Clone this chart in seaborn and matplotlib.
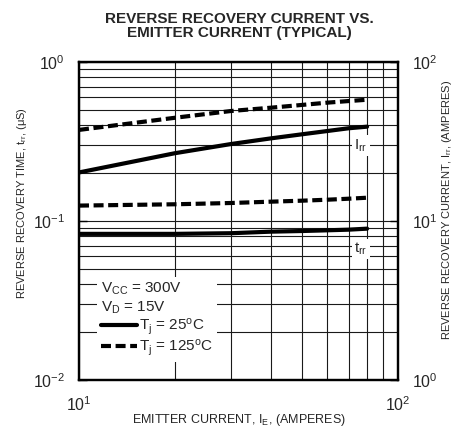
import numpy as np
import pandas as pd
import seaborn as sns
import matplotlib
matplotlib.use("Agg")
from matplotlib import pyplot as plt
from matplotlib.lines import Line2D
from matplotlib.ticker import LogLocator, NullFormatter

## values
emitter_current = [10, 20, 30, 40, 50, 60, 70, 80]          # amperes
trr_25 = [0.083, 0.083, 0.0838, 0.0857, 0.0865, 0.0874, 0.0882, 0.0895]   # us
trr_125 = [0.125, 0.1274, 0.1298, 0.1323, 0.1342, 0.1361, 0.1381, 0.1401]  # us
irr_25 = [20.2, 26.7, 30.5, 33.1, 35.1, 36.8, 38.3, 39.2]   # amperes
irr_125 = [37.4, 44.6, 49.2, 51.6, 53.7, 55.5, 56.8, 57.9]  # amperes

df = pd.DataFrame({'ie': emitter_current, 'trr_25': trr_25, 'trr_125': trr_125,
                   'irr_25': irr_25, 'irr_125': irr_125})

sns.set_theme(style='white')
plt.rcParams['font.family'] = ['Liberation Sans', 'DejaVu Sans']
plt.rcParams['mathtext.default'] = 'regular'

DASH = (0, (2.4, 1.1))
LW = 3

fig = plt.figure(figsize=(4.6, 4.4), dpi=100)
ax = fig.add_axes([79 / 460, 1 - 380 / 440, 319 / 460, 318 / 440])
ax2 = ax.twinx()

## t_rr curves on the left axis
sns.lineplot(data=df, x='ie', y='trr_25', ax=ax, color='black', lw=LW)
sns.lineplot(data=df, x='ie', y='trr_125', ax=ax, color='black', lw=LW, linestyle=DASH)
## I_rr curves on the right axis
sns.lineplot(data=df, x='ie', y='irr_25', ax=ax2, color='black', lw=LW)
sns.lineplot(data=df, x='ie', y='irr_125', ax=ax2, color='black', lw=LW, linestyle=DASH)

for a in (ax, ax2):
    a.set_xscale('log')
    a.set_yscale('log')
    a.set_xlim(10, 100)
    for s in a.spines.values():
        s.set_linewidth(1.6)
        s.set_color('black')
ax.set_ylim(0.01, 1)
ax2.set_ylim(1, 100)

ax.xaxis.set_minor_locator(LogLocator(base=10, subs=np.arange(2, 10)))
ax.yaxis.set_minor_locator(LogLocator(base=10, subs=np.arange(2, 10)))
ax.xaxis.set_minor_formatter(NullFormatter())
ax.yaxis.set_minor_formatter(NullFormatter())
ax2.yaxis.set_minor_formatter(NullFormatter())
ax2.yaxis.set_minor_locator(LogLocator(base=10, subs=np.arange(2, 10)))

ax.grid(True, which='both', color='#1a1a1a', lw=0.8)
ax.set_axisbelow(True)

ax.tick_params(axis='both', which='major', direction='in', length=6, width=1,
               labelsize=11.5, color='black', pad=10)
ax.tick_params(axis='x', which='major', length=0, pad=11)
ax.tick_params(axis='both', which='minor', length=0)
ax2.tick_params(axis='y', which='major', direction='in', length=6, width=1,
                labelsize=11.5, color='black', pad=10)
ax2.tick_params(axis='y', which='minor', length=0)

ax.set_xlabel('EMITTER CURRENT, I$_E$, (AMPERES)', fontsize=9, va='center')
ax.xaxis.set_label_coords(0.502, -0.126)
ax.set_ylabel('REVERSE RECOVERY TIME, t$_{rr}$, (μS)', fontsize=8, va='center')
ax.yaxis.set_label_coords(-0.179, 0.557)
ax2.set_ylabel('REVERSE RECOVERY CURRENT, I$_{rr}$, (AMPERES)', fontsize=8,
               va='center', rotation=90)
ax2.yaxis.set_label_coords(1.154, 0.535)

## curve labels
box = dict(facecolor='white', edgecolor='none', pad=1.5)
ax2.text(76.6, 29.7, 'I$_{rr}$', fontsize=11, ha='center', va='center', bbox=box)
ax2.text(76.6, 6.67, 't$_{rr}$', fontsize=11, ha='center', va='center', bbox=box)

handles = [Line2D([], [], color='black', lw=LW),
           Line2D([], [], color='black', lw=LW, linestyle=DASH)]
leg = ax.legend(handles, ['T$_j$ = 25$^o$C', 'T$_j$ = 125$^o$C'],
                title='V$_{CC}$ = 300V\nV$_D$ = 15V', title_fontsize=11, fontsize=11,
                alignment='left', loc='upper left', bbox_to_anchor=(0.056, 0.324),
                frameon=True, facecolor='white', edgecolor='none', framealpha=1,
                fancybox=False, borderpad=0.25, labelspacing=0.05, handlelength=2.35,
                handletextpad=0.15, borderaxespad=0)
leg.set_zorder(5)

fig.text(239 / 460, 1 - 26 / 440, 'REVERSE RECOVERY CURRENT VS.\nEMITTER CURRENT (TYPICAL)',
         ha='center', va='center', fontsize=11, fontweight='bold', linespacing=1.05)

fig.savefig('out.png', dpi=100)
